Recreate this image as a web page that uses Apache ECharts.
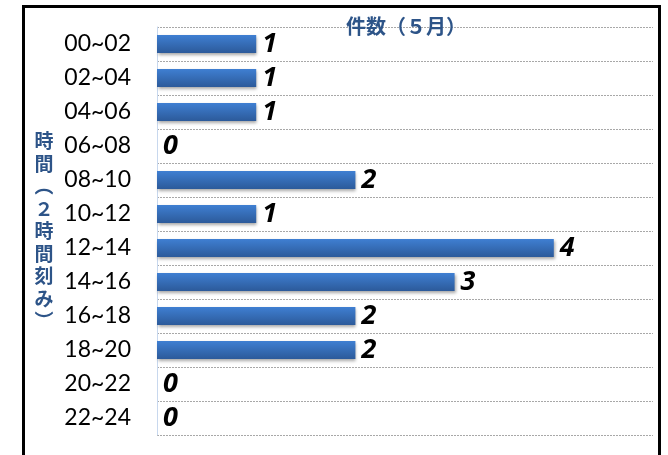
<!DOCTYPE html>
<html>
<head>
<meta charset="utf-8">
<script src="https://cdn.jsdelivr.net/npm/echarts@6/dist/echarts.min.js"></script>
<style>html,body{margin:0;padding:0;background:#fff;}#c{width:668px;height:455px;}</style>
</head>
<body>
<div id="c"></div>
<script>
const categories = ['00~02','02~04','04~06','06~08','08~10','10~12','12~14','14~16','16~18','18~20','20~22','22~24'];
const counts = [1,1,1,0,2,1,4,3,2,2,0,0];
const seriesName = '件数（５月）';
const axisName = '時\n間\n︵\n２\n時\n間\n刻\nみ\n︶';

const chart = echarts.init(document.getElementById('c'));
chart.setOption({
  animation: false,
  backgroundColor: '#fff',
  title: {
    text: seriesName,
    left: 401, top: 11, textAlign: 'center',
    textStyle: { fontFamily: 'Noto Sans CJK JP', fontSize: 20, fontWeight: 'bold', color: '#2d5488' }
  },
  grid: { left: 157, right: 15, top: 27, bottom: 20 },
  xAxis: {
    type: 'value', min: 0, max: 5,
    axisLabel: { show: false }, axisLine: { show: false }, axisTick: { show: false },
    splitLine: { show: false }
  },
  yAxis: {
    type: 'category', data: categories, inverse: true,
    axisLine: { show: true, lineStyle: { color: '#c8d8ee', width: 1 } },
    axisTick: { show: false },
    axisLabel: { margin: 26, color: '#000', fontFamily: 'Lato', fontSize: 23 },
    splitLine: { show: true, lineStyle: { color: '#a8a8a8', type: [2, 1], width: 1 } }
  },
  graphic: [
    { type: 'rect', z: 100, shape: { x: 23.5, y: 6.5, width: 636, height: 470 },
      style: { fill: 'none', stroke: '#000', lineWidth: 3 } },
    { type: 'text', z: 100, x: 44, y: 231,
      style: { text: axisName, fontFamily: 'Noto Sans CJK JP', fontSize: 19, fontWeight: 'bold',
               lineHeight: 22.5, fill: '#2d5488', align: 'center', verticalAlign: 'middle' } }
  ],
  series: [{
    type: 'bar', name: seriesName, data: counts, barWidth: 18,
    itemStyle: {
      color: new echarts.graphic.LinearGradient(0, 0, 0, 1, [
        { offset: 0, color: '#3f7fd2' }, { offset: 1, color: '#2c5a9a' }
      ]),
      shadowColor: 'rgba(0,0,0,0.35)', shadowBlur: 3, shadowOffsetX: 1, shadowOffsetY: 2
    },
    label: {
      show: true, position: 'right', distance: 6, color: '#000',
      fontFamily: 'Open Sans', fontSize: 27, fontWeight: 'bold', fontStyle: 'italic'
    }
  }]
});
</script>
</body>
</html>
